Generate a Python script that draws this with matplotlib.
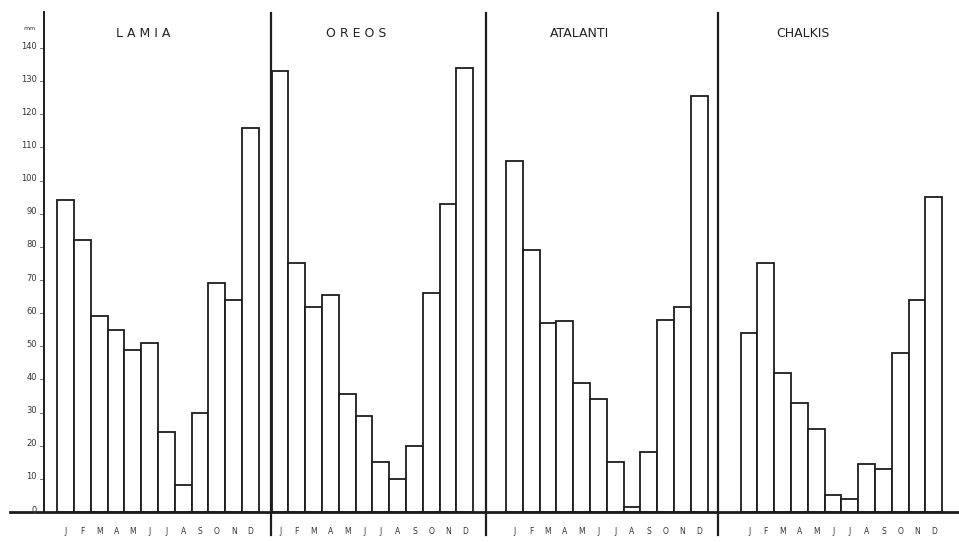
import matplotlib
matplotlib.use("Agg")
import matplotlib.pyplot as plt
import numpy as np

# ---------------- data (monthly precipitation, mm) ----------------
months = ["J", "F", "M", "A", "M", "J", "J", "A", "S", "O", "N", "D"]
stations = ["L A M I A", "O R E O S", "ATALANTI", "CHALKIS"]
lamia = [94, 82, 59, 55, 49, 51, 24, 8, 30, 69, 64, 116]
oreos = [133, 75, 62, 65.5, 35.5, 29, 15, 10, 20, 66, 93, 134]
atalanti = [106, 79, 57, 57.5, 39, 34, 15, 1.5, 18, 58, 62, 125.5]
chalkis = [54, 75, 42, 33, 25, 5, 4, 14.5, 13, 48, 64, 95]
y_ticks = list(range(0, 141, 10))
unit_label = "mm"

# ---------------- layout ----------------
W, H = 959, 542
X0, XS = 44, 16.8      # pixel of left axis, pixels per bar
Y0, YS = 512, 3.314    # pixel of zero line, pixels per mm

fig = plt.figure(figsize=(W / 100, H / 100), dpi=100)
ax = fig.add_axes([0, 0, 1, 1])
ax.set_axis_off()
ax.set_xlim(-X0 / XS, (W - X0) / XS)
ax.set_ylim(-(H - Y0) / YS, Y0 / YS)

group_start = [0.79, 13.55, 27.5, 41.47]
separators = [13.5, 26.3, 40.1]
title_x = [5.9, 18.6, 31.9, 45.2]
ink = "#1c1c1c"

series = [lamia, oreos, atalanti, chalkis]
for name, vals, x0, tx in zip(stations, series, group_start, title_x):
    xs = x0 + np.arange(len(months)) + 0.5
    ax.bar(xs, vals, width=1.0, color="white", edgecolor=ink,
           linewidth=1.3, zorder=2)
    for x, m in zip(xs, months):
        ax.text(x, -6.0, m, ha="center", va="center", fontsize=5.5,
                color="#333333")
    ax.text(tx, 144.5, name, ha="center", va="center", fontsize=9,
            color="#222222")

# baseline
ax.plot([-34 / XS, (W - X0) / XS], [0, 0], color=ink, lw=2.0, zorder=3)
# left axis
ax.plot([0, 0], [0, 150.9], color=ink, lw=1.4, zorder=3)
# separators between stations
for sx in separators:
    ax.plot([sx, sx], [-7.0, 150.5], color=ink, lw=1.6, zorder=3)

# y tick labels
for v in y_ticks:
    ax.text(-7 / XS, v + 0.6, str(v), ha="right", va="center", fontsize=6,
            color="#333333")
    ax.plot([-4 / XS, -1.5 / XS], [v, v], color="#555555", lw=0.6)
ax.text(-8 / XS, 146, unit_label, ha="right", va="center", fontsize=4.5,
        color="#333333")

fig.savefig("out.png", dpi=100, facecolor="white")
